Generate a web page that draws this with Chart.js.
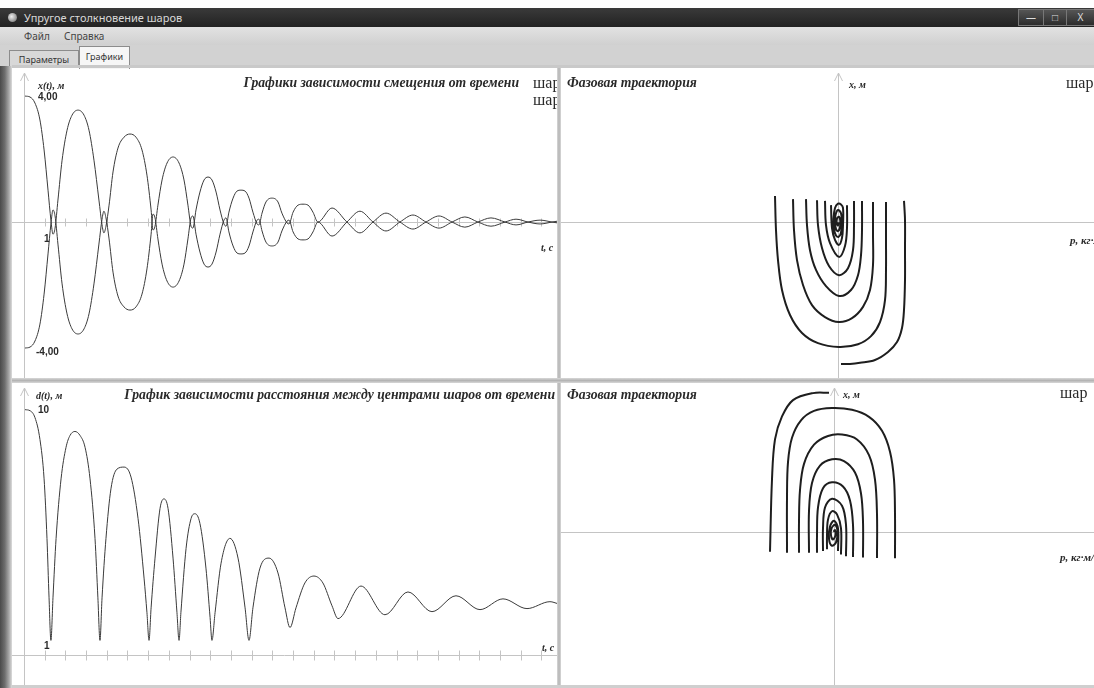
<!DOCTYPE html>
<html lang="ru">
<head>
<meta charset="utf-8">
<title>Упругое столкновение шаров</title>
<script src="https://cdn.jsdelivr.net/npm/chart.js@4.4.1/dist/chart.umd.min.js"></script>
<style>
  body { margin: 0; width: 1094px; height: 688px; overflow: hidden; background: #fff; position: relative; font-family: "Noto Sans", sans-serif; }
  .abs { position: absolute; }
  #titlebar { left: 0; top: 8px; width: 1094px; height: 19px; background: linear-gradient(#3a3a3a, #222); color: #d8d8d8; font-size: 11px; line-height: 19px; }
  #titlebar .icon { position: absolute; left: 8px; top: 5px; width: 9px; height: 9px; border-radius: 50%; background: radial-gradient(circle at 40% 40%, #eee, #666); }
  #titlebar .text { position: absolute; left: 24px; }
  .winbtn { position: absolute; top: 1px; height: 15px; border: 1px solid #777; background: linear-gradient(#555, #2c2c2c); color: #ddd; font-size: 10px; line-height: 14px; text-align: center; }
  #menubar { left: 0; top: 27px; width: 1094px; height: 18px; background: linear-gradient(#e2e2e2, #d0d0d0); font-size: 10px; line-height: 18px; color: #444; }
  #menubar span { position: absolute; }
  #tabstrip { left: 0; top: 45px; width: 1094px; height: 23px; background: #d2d2d2; }
  .tab { position: absolute; font-size: 9px; color: #333; text-align: center; border: 1px solid #8c8c8c; border-bottom: none; }
  #leftframe { left: 0; top: 66px; width: 12px; height: 622px; background: linear-gradient(90deg, #4a4a4a, #6e6e6e 40%, #a8a8a8 75%, #dcdcdc); }
  #topband { left: 12px; top: 65px; width: 1082px; height: 3px; background: #c9c9c9; }
  #vsplit { left: 557px; top: 68px; width: 4px; height: 620px; background: linear-gradient(90deg, #d8d8d8, #b4b4b4, #d8d8d8); }
  #hsplit { left: 12px; top: 378px; width: 1082px; height: 5px; background: linear-gradient(#d8d8d8, #b4b4b4, #d8d8d8); }
  #bottomband { left: 12px; top: 685px; width: 1082px; height: 3px; background: #cfcfcf; }
  canvas { position: absolute; }
</style>
</head>
<body>
<div id="titlebar" class="abs"><div class="icon"></div><div class="text">Упругое столкновение шаров</div>
  <div class="winbtn" style="left:1018px;width:24px">&#8212;</div>
  <div class="winbtn" style="left:1043px;width:22px">&#9633;</div>
  <div class="winbtn" style="left:1066px;width:27px">X</div>
</div>
<div id="menubar" class="abs"><span style="left:24px">Файл</span><span style="left:64px">Справка</span></div>
<div id="tabstrip" class="abs">
  <div class="tab" style="left:9px;top:5px;width:68px;height:17px;line-height:17px;background:#d8d8d8">Параметры</div>
  <div class="tab" style="left:79px;top:1px;width:49px;height:22px;line-height:20px;background:#f6f6f6">Графики</div>
</div>
<div id="leftframe" class="abs"></div>
<div id="topband" class="abs"></div>

<canvas id="dispChart" width="545" height="310" style="left:12px;top:68px"></canvas>
<canvas id="phase2Chart" width="533" height="310" style="left:561px;top:68px"></canvas>
<canvas id="distChart" width="545" height="302" style="left:12px;top:383px"></canvas>
<canvas id="phase1Chart" width="533" height="302" style="left:561px;top:383px"></canvas>

<div id="vsplit" class="abs"></div>
<div id="hsplit" class="abs"></div>
<div id="bottomband" class="abs"></div>

<script>
// время, с (общая ось для смещений)
const dispTime = [0.05, 0.29, 0.53, 0.77, 0.97, 1.16, 1.30, 1.40, 1.50, 1.64, 1.84, 2.08, 2.32, 2.61, 2.90, 3.14, 3.38, 3.62,
  3.77, 3.86, 3.96, 4.11, 4.30, 4.54, 4.83, 5.12, 5.41, 5.70, 5.94, 6.14, 6.23, 6.33, 6.47, 6.67, 6.91, 7.20, 7.49, 7.73,
  7.92, 8.07, 8.16, 8.31, 8.50, 8.70, 8.89, 9.08, 9.28, 9.47, 9.66, 9.76, 9.90, 10.10, 10.29, 10.48, 10.68, 10.87, 11.06,
  11.26, 11.35, 11.50, 11.69, 11.98, 12.27, 12.46, 12.71, 12.80, 13.00, 13.24, 13.48, 13.72, 13.96, 14.20, 14.88, 15.60,
  16.23, 16.86, 17.49, 18.16, 18.79, 19.42, 20.05, 20.68, 21.30, 21.93, 22.56, 23.24, 23.77, 24.35, 24.93, 25.51, 25.80];

// смещение шара 1, м
const ball1Disp = [3.95, 3.92, 3.73, 3.20, 2.26, 1.00, 0.06, -0.38, -0.19, 0.69, 1.94, 2.88, 3.35, 3.51, 3.35, 2.88, 1.94, 0.69,
  -0.09, -0.34, -0.13, 0.53, 1.57, 2.32, 2.66, 2.76, 2.66, 2.26, 1.47, 0.38, -0.25, -0.13, 0.53, 1.32, 1.85, 2.04, 1.85, 1.32,
  0.53, -0.13, -0.19, 0.38, 0.94, 1.32, 1.41, 1.32, 0.94, 0.38, -0.06, -0.13, 0.31, 0.75, 0.97, 1.00, 0.97, 0.75, 0.31,
  -0.06, -0.09, 0.28, 0.63, 0.75, 0.63, 0.28, -0.03, -0.06, 0.31, 0.53, 0.56, 0.53, 0.31, 0.00, 0.44, 0.00,
  -0.34, 0.00, 0.28, 0.00, -0.22, 0.00, 0.19, 0.00, -0.16, 0.00, 0.13, 0.00, -0.09, 0.00, 0.06, 0.00, -0.03];

// смещение шара 2, м
const ball2Disp = [-3.95, -3.92, -3.73, -3.20, -2.26, -1.00, -0.06, 0.38, 0.19, -0.69, -1.94, -2.88, -3.35, -3.51, -3.35, -2.88, -1.94, -0.69,
  0.09, 0.34, 0.13, -0.53, -1.57, -2.32, -2.66, -2.76, -2.66, -2.26, -1.47, -0.38, 0.25, 0.13, -0.53, -1.32, -1.85, -2.04, -1.85, -1.32,
  -0.53, 0.13, 0.19, -0.38, -0.94, -1.32, -1.41, -1.32, -0.94, -0.38, 0.06, 0.13, -0.31, -0.75, -0.97, -1.00, -0.97, -0.75, -0.31,
  0.06, 0.09, -0.28, -0.63, -0.75, -0.63, -0.28, 0.03, 0.06, -0.31, -0.53, -0.56, -0.53, -0.31, 0.00, -0.44, 0.00,
  0.34, 0.00, -0.28, 0.00, 0.22, 0.00, -0.19, 0.00, 0.16, 0.00, -0.13, 0.00, 0.09, 0.00, -0.06, 0.00, 0.03];

// расстояние между центрами шаров
const distTime = [0.05, 0.29, 0.53, 0.77, 0.97, 1.11, 1.21, 1.30, 1.40, 1.55, 1.79, 2.03, 2.22, 2.46, 2.71, 2.95, 3.19, 3.43,
  3.57, 3.67, 3.77, 3.96, 4.20, 4.49, 4.83, 5.17, 5.51, 5.80, 5.94, 6.04, 6.14, 6.33, 6.57, 6.76, 6.96, 7.20, 7.39, 7.49,
  7.58, 7.83, 8.07, 8.26, 8.50, 8.79, 8.99, 9.08, 9.23, 9.52, 9.95, 10.34, 10.68, 10.87, 11.06, 11.40, 11.84, 12.27, 12.61,
  12.85, 13.14, 13.57, 14.01, 14.44, 14.88, 15.17, 16.28, 17.44, 18.55, 19.71, 20.87, 22.03, 23.14, 24.30, 25.41, 25.80];
const distValues = [10.0, 9.96, 9.69, 8.84, 7.30, 4.98, 2.66, 1.0, 2.66, 4.98, 7.30, 8.53, 8.99, 9.15, 8.99, 8.53, 7.30, 4.98,
  2.66, 1.0, 2.66, 4.98, 6.91, 7.68, 7.76, 7.37, 5.75, 3.43, 2.08, 1.0, 2.27, 4.21, 6.14, 6.52, 6.14, 4.21, 2.08, 1.0,
  2.08, 4.59, 5.75, 5.94, 5.56, 3.82, 1.89, 1.0, 2.08, 4.01, 4.98, 4.21, 2.27, 1.0, 2.27, 3.82, 4.21, 3.63, 2.27,
  1.50, 2.27, 3.24, 3.51, 3.24, 2.35, 1.85, 3.12, 2.00, 2.89, 2.12, 2.74, 2.20, 2.62, 2.24, 2.51, 2.43];

// фазовая траектория шара 2 (импульс, координата); null — разрыв при ударе
const phase2P = [0.3, 1.2, 2.2, 3.7, 5.0, 5.9, 6.4, 6.6, 6.7, 6.7, 6.7, 6.6, null,
  -6.3, -6.2, -6.0, -5.6, -4.8, -3.6, -2.0, 0.1, 2.0, 3.3, 4.2, 4.7, 4.8, 4.8, 4.8, null,
  -4.5, -4.4, -4.1, -3.5, -2.6, -1.3, 0.1, 1.4, 2.5, 3.2, 3.5, 3.5, 3.5, null,
  -3.2, -3.1, -2.8, -2.2, -1.2, 0.1, 1.3, 2.0, 2.3, 2.4, 2.4, null,
  -2.1, -2.0, -1.6, -0.9, 0.1, 1.0, 1.5, 1.6, 1.6, null,
  -1.3, -1.2, -0.8, 0.1, 0.7, 0.9, 0.9, null,
  -0.7, -0.6, -0.3, 0.1, 0.4, 0.5, 0.5, 0.3, 0.0, -0.3, -0.45, -0.4, -0.2, 0.05, 0.3, 0.38, 0.3, 0.0, -0.25, -0.3, -0.2, 0.0, 0.2, 0.22, 0.1, -0.1, -0.12, 0.0, 0.05];
const phase2X = [-4.03, -4.03, -4.0, -3.92, -3.69, -3.41, -3.01, -2.5, -1.65, -0.8, 0.06, 0.6, null,
  0.74, -0.23, -1.08, -1.93, -2.64, -3.15, -3.44, -3.55, -3.47, -3.24, -2.84, -2.22, -1.36, -0.51, 0.57, null,
  0.65, -0.23, -1.08, -1.79, -2.36, -2.7, -2.84, -2.73, -2.41, -1.93, -1.22, -0.37, 0.57, null,
  0.65, -0.09, -0.8, -1.36, -1.82, -2.1, -1.93, -1.51, -0.94, -0.23, 0.6, null,
  0.62, -0.09, -0.74, -1.25, -1.51, -1.31, -0.8, -0.09, 0.6, null,
  0.6, -0.09, -0.6, -0.99, -0.68, -0.17, 0.48, null,
  0.48, -0.17, -0.51, -0.65, -0.45, -0.09, 0.4, 0.5, 0.52, 0.4, 0.1, -0.2, -0.38, -0.42, -0.3, 0.0, 0.25, 0.34, 0.2, 0.0, -0.2, -0.26, -0.15, 0.05, 0.15, 0.1, -0.05, -0.1, 0.0];

// фазовая траектория шара 1
const phase1P = [-0.5, -2.1, -4.1, -5.2, -5.9, -6.2, -6.4, null,
  6.1, 6.1, 6.0, 5.6, 4.8, 3.5, 1.8, -0.2, -2.0, -3.3, -4.2, -4.6, -4.7, -4.7, null,
  4.3, 4.3, 4.1, 3.5, 2.3, 0.8, -0.6, -2.0, -3.0, -3.4, -3.5, -3.5, null,
  2.9, 2.9, 2.7, 2.1, 1.0, -0.2, -1.4, -2.2, -2.5, -2.5, null,
  1.9, 1.9, 1.6, 0.9, -0.2, -1.1, -1.6, -1.7, -1.7, null,
  1.2, 1.2, 0.8, -0.2, -0.9, -1.1, -1.1, null,
  0.7, 0.7, 0.3, -0.2, -0.6, -0.7, -0.7, null,
  0.4, 0.4, 0.0, -0.4, -0.5, -0.2, 0.2, 0.35, 0.1, -0.25, -0.3, -0.1, 0.15, 0.1, -0.05];
const phase1X = [3.99, 3.98, 3.78, 3.31, 2.65, 1.51, -0.57, null,
  -0.76, 0.5, 1.5, 2.3, 2.9, 3.3, 3.5, 3.55, 3.47, 3.2, 2.7, 2.0, 1.0, -0.6, null,
  -0.75, 0.5, 1.5, 2.2, 2.65, 2.79, 2.75, 2.5, 1.95, 1.2, 0.3, -0.6, null,
  -0.74, 0.3, 1.1, 1.7, 2.03, 2.08, 1.9, 1.4, 0.6, -0.6, null,
  -0.72, 0.2, 0.9, 1.3, 1.42, 1.25, 0.7, -0.1, -0.6, null,
  -0.7, 0.2, 0.75, 0.95, 0.7, 0.1, -0.55, null,
  -0.65, 0.1, 0.5, 0.59, 0.35, -0.1, -0.5, null,
  -0.55, 0.1, 0.32, 0.15, -0.2, -0.4, -0.3, 0.0, 0.2, 0.1, -0.1, -0.22, -0.1, 0.05, 0.0];

const timeTicks = [1, 2, 3, 4, 5, 6, 7, 8, 9, 10, 11, 12, 13, 14, 15, 16, 17, 18, 19, 20, 21, 22, 23, 24, 25];

const toPoints = (xs, ys) => xs.map((x, i) => ({ x, y: ys[i] }));

const serifTitle = 'italic bold 13.7px "Liberation Serif"';
const axisName = 'italic bold 10px "Liberation Serif"';
const pName = 'italic bold 11px "Liberation Serif"';
const tickFont = 'bold 10px "Liberation Sans"';
const legendFont = '16px "Liberation Serif"';

// оси, стрелки, засечки и подписи
const axesPlugin = {
  id: 'axes',
  beforeDatasetsDraw(chart, args, o) {
    const { ctx } = chart;
    const xs = chart.scales.x, ys = chart.scales.y;
    const x0 = Math.round(xs.getPixelForValue(0)) + 0.5;
    const y0 = Math.round(ys.getPixelForValue(o.axisAt || 0)) + 0.5;
    ctx.save();
    ctx.strokeStyle = '#c4c4c4';
    ctx.lineWidth = 1;
    ctx.beginPath();
    ctx.moveTo(x0, 5); ctx.lineTo(x0, chart.height);
    ctx.moveTo(x0 - 4, 13); ctx.lineTo(x0, 5); ctx.lineTo(x0 + 4, 13);
    ctx.moveTo(0, y0); ctx.lineTo(chart.width, y0);
    (o.ticks || []).forEach(t => {
      const px = Math.round(xs.getPixelForValue(t)) + 0.5;
      ctx.moveTo(px, y0 - o.tickLen); ctx.lineTo(px, y0 + o.tickLen);
    });
    ctx.stroke();
    ctx.restore();
  },
  afterDraw(chart, args, o) {
    const { ctx } = chart;
    ctx.save();
    (o.labels || []).forEach(l => {
      ctx.font = l.font;
      ctx.fillStyle = l.color || '#2a2a2a';
      ctx.textAlign = l.align || 'left';
      ctx.textBaseline = 'middle';
      ctx.fillText(l.text, l.x, l.y);
    });
    ctx.restore();
  }
};

function makeChart(id, datasets, xr, yr, axes, tension) {
  return new Chart(document.getElementById(id), {
    type: 'scatter',
    data: { datasets },
    options: {
      responsive: false,
      animation: false,
      events: [],
      layout: { padding: 0, autoPadding: false },
      elements: { point: { radius: 0 }, line: { tension } },
      plugins: { legend: { display: false }, tooltip: { enabled: false }, axes },
      scales: {
        x: { type: 'linear', display: false, min: xr[0], max: xr[1] },
        y: { type: 'linear', display: false, min: yr[0], max: yr[1] }
      }
    },
    plugins: [axesPlugin]
  });
}

const thinLine = { showLine: true, borderColor: '#3a3a3a', borderWidth: 1, cubicInterpolationMode: 'monotone', spanGaps: false };
const phaseLine = { showLine: true, borderColor: '#1e1e1e', borderWidth: 2, spanGaps: false };

makeChart('dispChart', [
  { ...thinLine, label: 'шар 1', data: toPoints(dispTime, ball1Disp) },
  { ...thinLine, label: 'шар 2', data: toPoints(dispTime, ball2Disp) }
], [-0.58, 25.75], [-4.89, 4.83], {
  ticks: timeTicks, tickLen: 4,
  labels: [
    { text: 'x(t), м', x: 26, y: 18, font: axisName },
    { text: '4,00', x: 26, y: 29, font: tickFont },
    { text: '-4,00', x: 24, y: 284, font: tickFont },
    { text: '1', x: 32, y: 171, font: tickFont },
    { text: 't, c', x: 529, y: 180, font: axisName },
    { text: 'Графики зависимости смещения от времени', x: 507, y: 15, font: serifTitle, align: 'right' },
    { text: 'шар', x: 521, y: 16, font: legendFont },
    { text: 'шар', x: 521, y: 33, font: legendFont }
  ]
}, 0);

makeChart('phase2Chart', [
  { ...phaseLine, label: 'шар 2', data: toPoints(phase2P, phase2X) }
], [-27.7, 25.6], [-4.43, 4.375], {
  ticks: [], tickLen: 0,
  labels: [
    { text: 'Фазовая траектория', x: 6, y: 15, font: serifTitle },
    { text: 'x, м', x: 288, y: 17, font: axisName },
    { text: 'шар', x: 505, y: 16, font: legendFont },
    { text: 'p, кг·м/с', x: 509, y: 173, font: pName }
  ]
}, 0.35);

makeChart('distChart', [
  { ...thinLine, label: 'd', data: toPoints(distTime, distValues) }
], [-0.58, 25.75], [-0.74, 11.04], {
  axisAt: 0.43, ticks: timeTicks, tickLen: 5,
  labels: [
    { text: 'd(t), м', x: 24, y: 13, font: axisName },
    { text: '10', x: 26, y: 27, font: tickFont },
    { text: '1', x: 32, y: 263, font: tickFont },
    { text: 't, c', x: 530, y: 265, font: axisName },
    { text: 'График зависимости расстояния между центрами шаров от времени', x: 543, y: 12, font: serifTitle, align: 'right' }
  ]
}, 0);

makeChart('phase1Chart', [
  { ...phaseLine, label: 'шар 1', data: toPoints(phase1P, phase1X) }
], [-27.3, 26.0], [-4.395, 4.27], {
  ticks: [], tickLen: 0,
  labels: [
    { text: 'Фазовая траектория', x: 6, y: 12, font: serifTitle },
    { text: 'x, м', x: 282, y: 12, font: axisName },
    { text: 'шар', x: 499, y: 11, font: legendFont },
    { text: 'p, кг·м/с', x: 499, y: 175, font: pName }
  ]
}, 0.35);
</script>
</body>
</html>
